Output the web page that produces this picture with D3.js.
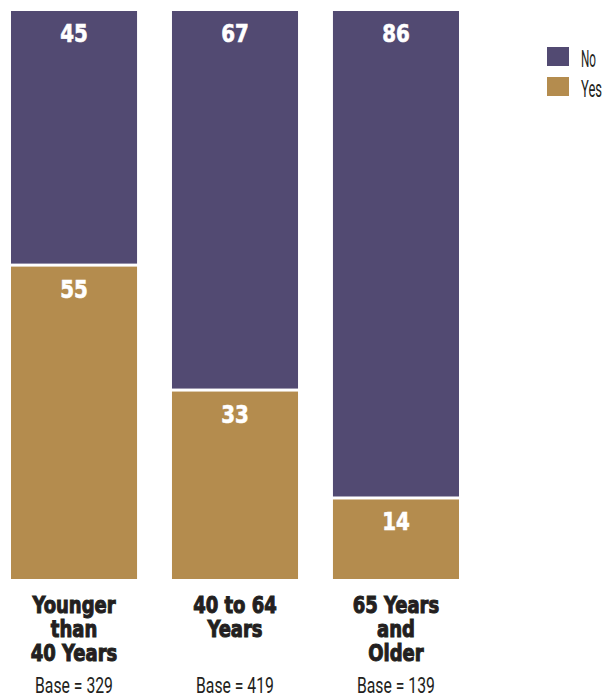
<!DOCTYPE html>
<html>
<head>
<meta charset="utf-8">
<script src="https://cdn.jsdelivr.net/npm/d3@7"></script>
<style>
  html, body { margin: 0; padding: 0; background: #fff; }
  svg { display: block; }
</style>
</head>
<body>
<svg id="chart" width="606" height="698"></svg>
<script>
// Age groups (label lines) and sample sizes
const categories = ["Younger than 40 Years", "40 to 64 Years", "65 Years and Older"];
const categoryLines = [["Younger", "than", "40 Years"], ["40 to 64", "Years"], ["65 Years", "and", "Older"]];
const bases = [329, 419, 139];

// Percent answering Yes / No
const yesValues = [55, 33, 14];
const noValues = [45, 67, 86];

const seriesNames = ["No", "Yes"];
const colors = { No: "#524a72", Yes: "#b48c4e" };

const svg = d3.select("#chart");

const x = d3.scaleBand().domain(categories).range([11, 459]).paddingInner(0.217).paddingOuter(0);
const y = d3.scaleLinear().domain([0, 100]).range([579, 11]);

const gap = 3;
const boldFont = "'DejaVu Sans Condensed', 'DejaVu Sans', sans-serif";
const lightFont = "Roboto, 'DejaVu Sans Condensed', sans-serif";
const ink = "#231f20";

// Squeeze a text horizontally to a given width, anchored at (x0, y0)
function condensed(sel, width, x0, y0, anchor) {
  const natural = sel.node().getComputedTextLength();
  const k = width / natural;
  const dx = anchor === "middle" ? -width / 2 : 0;
  sel.attr("transform", `translate(${x0 + dx},${y0}) scale(${k},1)`);
}

const rows = categories.map((c, i) => ({ cat: c, yes: yesValues[i], no: noValues[i], base: bases[i], lines: categoryLines[i] }));

const bars = svg.selectAll("g.bar").data(rows).join("g").attr("class", "bar");

// Yes segment (bottom)
bars.append("rect")
  .attr("x", d => x(d.cat))
  .attr("width", x.bandwidth())
  .attr("y", d => y(d.yes))
  .attr("height", d => y(0) - y(d.yes))
  .attr("fill", colors.Yes);

// No segment (stacked on top, separated by a thin white gap)
bars.append("rect")
  .attr("x", d => x(d.cat))
  .attr("width", x.bandwidth())
  .attr("y", d => y(d.yes + d.no))
  .attr("height", d => y(d.yes) - y(d.yes + d.no) - gap)
  .attr("fill", colors.No);

// Value labels inside segments
const valueLabel = (sel, val, top) => sel.append("text")
  .attr("transform", d => `translate(${x(d.cat) + x.bandwidth() / 2},${top(d) + 31}) scale(0.92,1)`)
  .attr("text-anchor", "middle")
  .attr("fill", "#fff")
  .attr("stroke", "#fff").attr("stroke-width", 0.6)
  .attr("font-family", boldFont)
  .attr("font-weight", "bold")
  .attr("font-size", 24)
  .text(val);

valueLabel(bars, d => d.no, d => y(d.yes + d.no));
valueLabel(bars, d => d.yes, d => y(d.yes));

// Category labels below bars
bars.each(function(d) {
  const g = d3.select(this);
  const cx = x(d.cat) + x.bandwidth() / 2;
  d.lines.forEach((line, j) => {
    g.append("text")
      .attr("transform", `translate(${cx},${613 + j * 24}) scale(0.87,1)`)
      .attr("text-anchor", "middle")
      .attr("fill", ink)
      .attr("stroke", ink).attr("stroke-width", 1)
      .attr("font-family", boldFont)
      .attr("font-weight", "bold")
      .attr("font-size", 23)
      .text(line);
  });
  const base = g.append("text")
    .attr("fill", ink)
    .attr("font-family", lightFont)
    .attr("font-weight", 400)
    .attr("font-size", 22)
    .text(`Base = ${d.base}`);
  condensed(base, 78, cx, 693, "middle");
});

// Legend
const legendWidths = { No: 15, Yes: 21 };
const legend = svg.append("g").attr("transform", "translate(547,47)");
const items = legend.selectAll("g").data(seriesNames).join("g")
  .attr("transform", (d, i) => `translate(0,${i * 30})`);
items.append("rect").attr("width", 22).attr("height", 19).attr("fill", d => colors[d]);
items.append("text")
  .attr("fill", ink)
  .attr("font-family", lightFont)
  .attr("font-weight", 400)
  .attr("font-size", 24)
  .text(d => d)
  .each(function(d) { condensed(d3.select(this), legendWidths[d], 34, 20, "start"); });
</script>
</body>
</html>
